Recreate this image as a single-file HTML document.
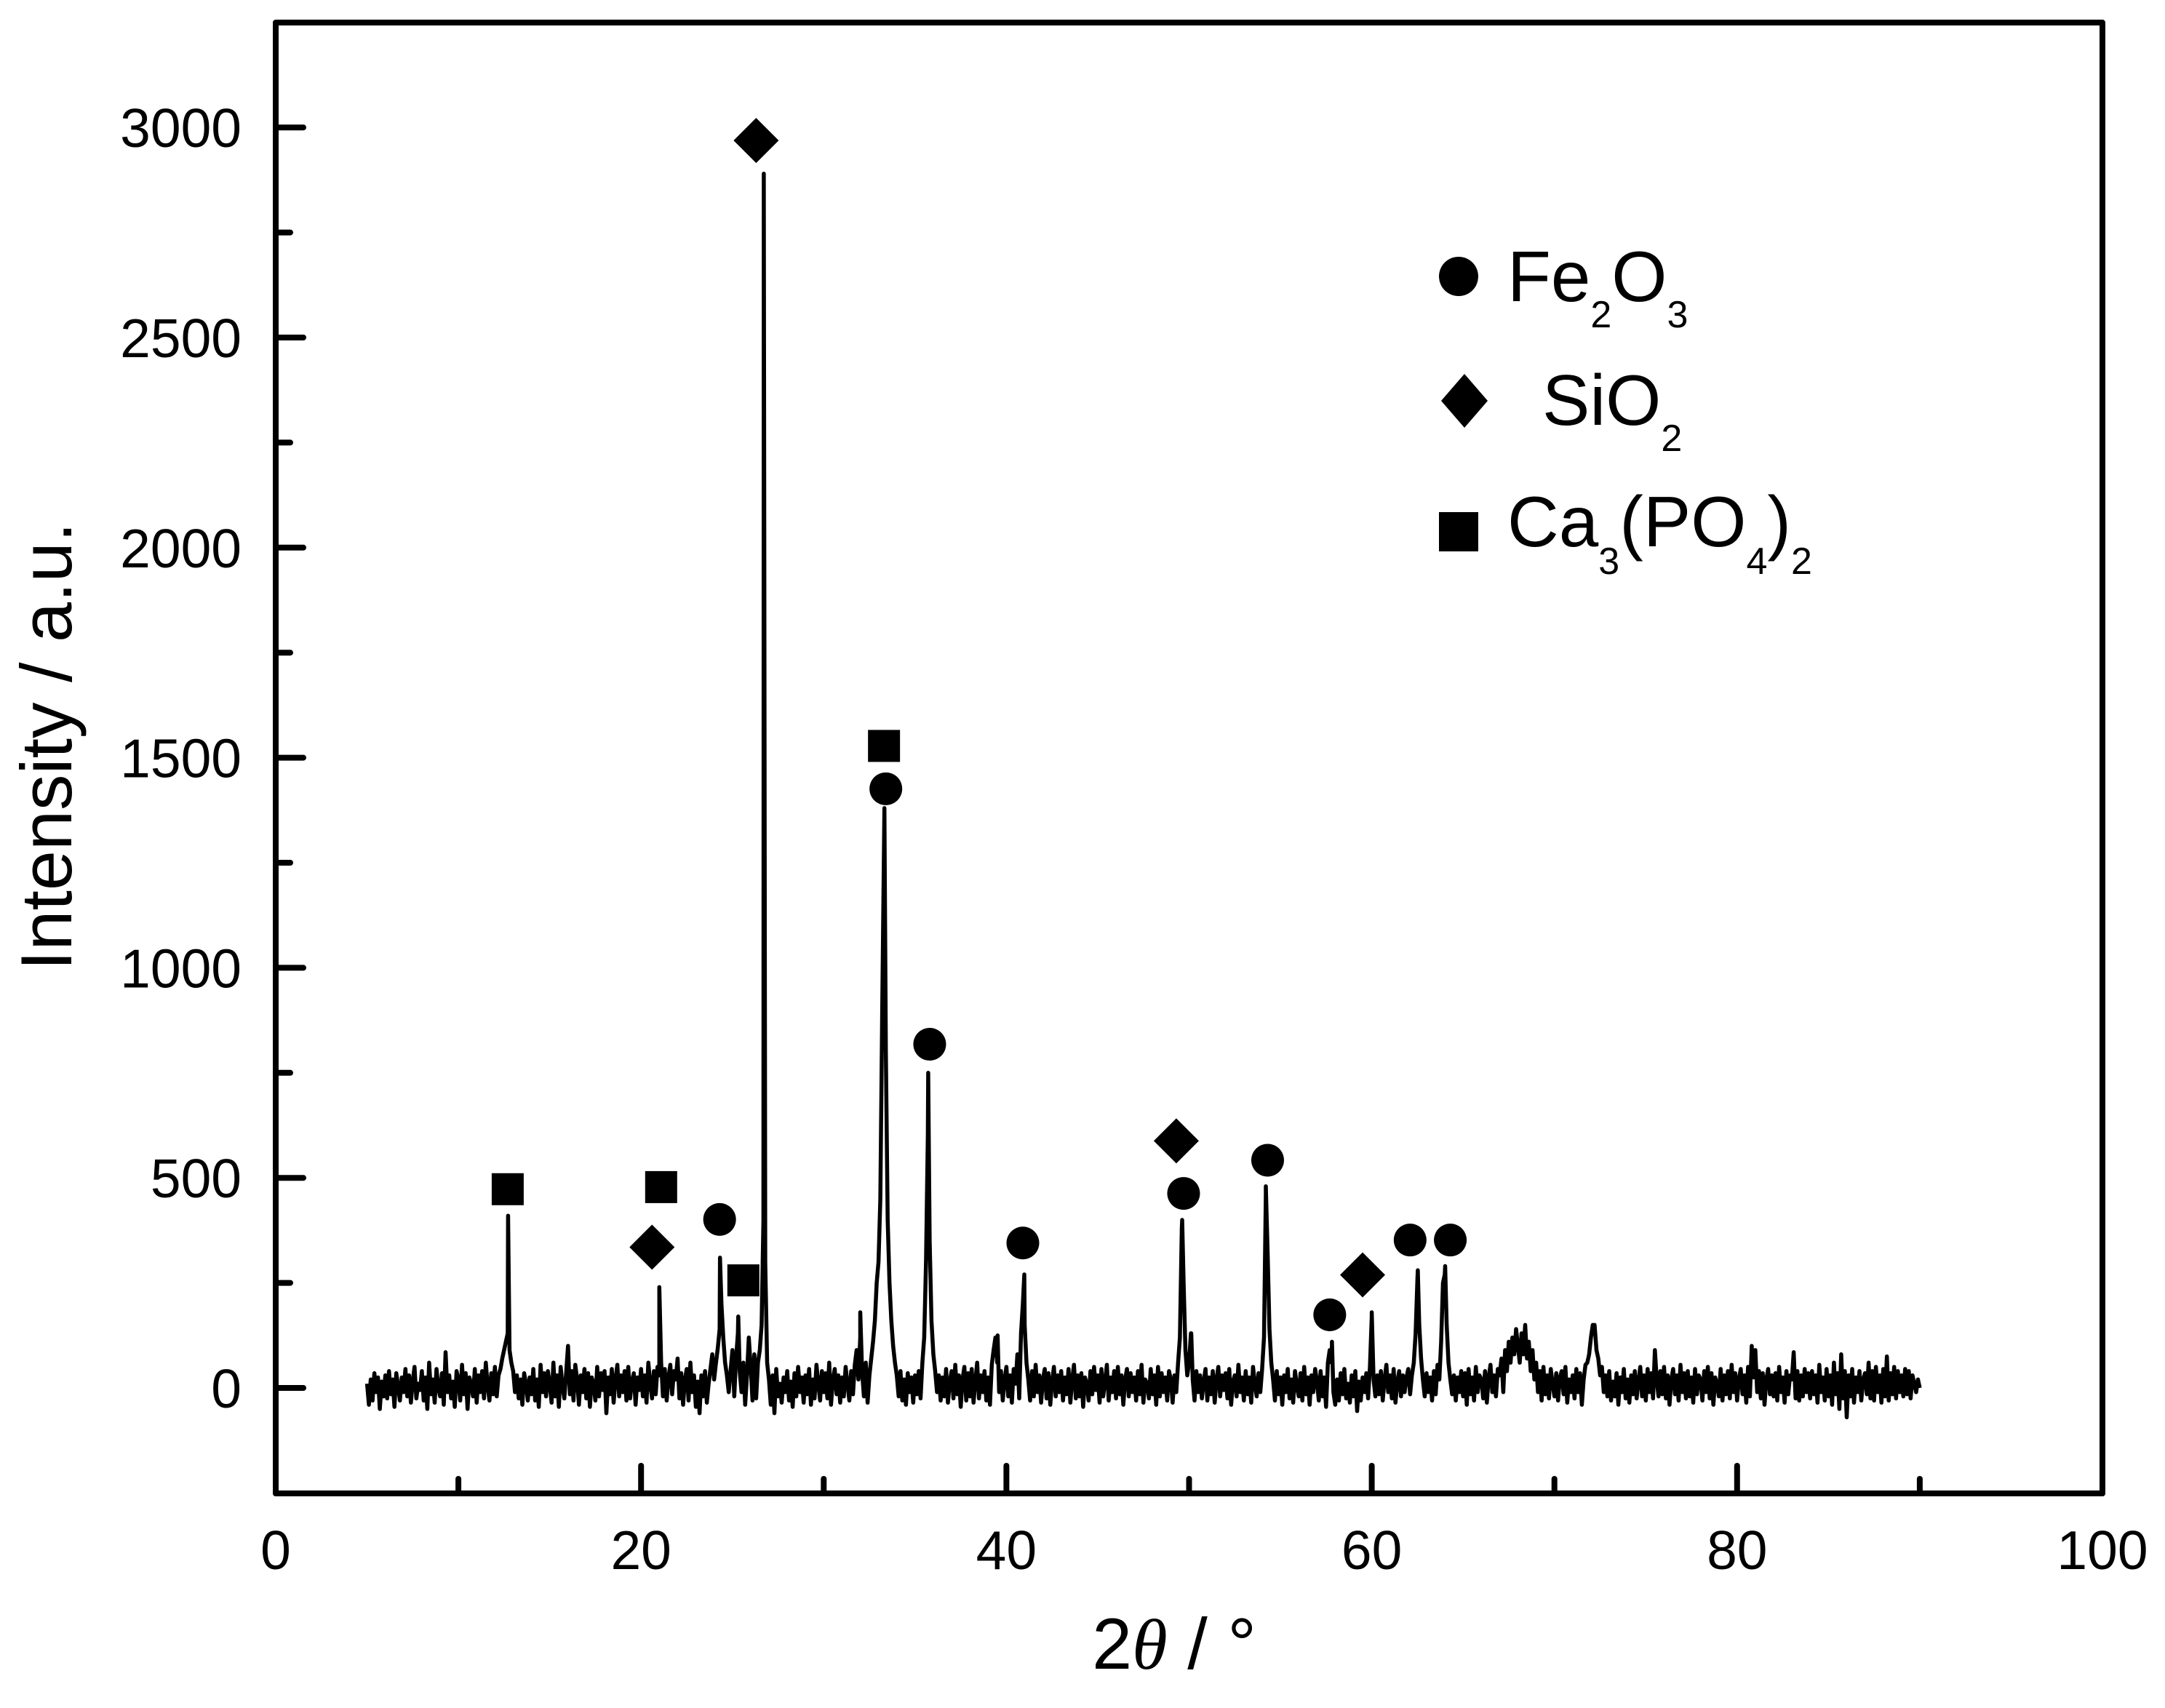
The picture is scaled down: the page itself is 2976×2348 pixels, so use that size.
<!DOCTYPE html>
<html><head><meta charset="utf-8"><style>
html,body{margin:0;padding:0;background:#fff}
svg{display:block}
text{font-family:"Liberation Sans",Arial,sans-serif;fill:#000}
</style></head><body>
<svg id="chart" width="2976" height="2348" viewBox="0 0 2976 2348" xmlns="http://www.w3.org/2000/svg">
<rect x="0" y="0" width="2976" height="2348" fill="#fff"/>
<g id="ticks"></g>
<g id="series"></g>
<g id="markers"></g>
<rect x="379" y="31" width="2511" height="2022" fill="none" stroke="#000" stroke-width="8" stroke-linejoin="round"/>
<text transform="translate(98,1026) rotate(-90)" text-anchor="middle" font-size="99">Intensity / a.u.</text>
<text x="1614" y="2294" text-anchor="middle" font-size="99">2<tspan font-style="italic" font-family="Liberation Serif, serif">θ</tspan> / °</text>
<g>
  <circle cx="2005" cy="380" r="27" fill="#000"/>
  <text x="2072" y="414" font-size="98">Fe<tspan font-size="52" dy="36">2</tspan><tspan dy="-36">O</tspan><tspan font-size="52" dy="36">3</tspan></text>
  <polygon points="2013,514 2045,551 2013,588 1981,551" fill="#000"/>
  <text x="2120" y="584" font-size="98">SiO<tspan font-size="52" dy="36">2</tspan></text>
  <rect x="1978" y="704" width="54" height="54" fill="#000"/>
  <text x="2072" y="751" font-size="98">Ca<tspan font-size="52" dy="38">3</tspan><tspan dy="-38">(PO</tspan><tspan font-size="52" dy="38">4</tspan><tspan dy="-38">)</tspan><tspan font-size="52" dy="38">2</tspan></text>
</g>
</svg>
<script>
const xTicks = [0,20,40,60,80,100];
const xMinor = [10,30,50,70,90];
const yTicks = [0,500,1000,1500,2000,2500,3000];
const yMinor = [250,750,1250,1750,2250,2750];
const baseStart = 5.0;
const baseStep = 0.1;
const baseline = [
10,-40,20,-30,35,-10,25,-50,15,-20,
30,-25,40,-15,20,-45,35,5,-30,25,
-10,45,-20,30,-35,15,50,-25,10,-5,
40,-30,25,-50,60,-15,20,-35,45,0,
-20,35,-40,85,-10,30,-25,15,-45,40,
20,-30,55,-15,35,-50,25,10,-20,45,
-35,30,-10,40,-25,60,5,-30,35,-15,
50,-20,30,45,70,90,110,130,90,60,
40,-10,30,-25,20,-40,35,10,-30,25,
-15,45,-30,20,-45,55,-10,35,-20,40,
10,-35,60,-20,30,-45,50,5,-25,35,
100,-15,40,-30,55,20,-40,30,-10,45,
-25,35,-45,25,10,-30,50,-20,35,-5,
40,-60,25,-15,45,-35,20,55,-20,30,
-10,40,-30,50,-25,15,35,-40,25,-5,
45,-20,30,-35,60,10,-25,40,-15,50,
30,60,-20,45,-30,25,55,-15,40,20,
70,-25,35,-40,20,45,-30,60,-10,30,
-45,15,-60,30,-20,40,-35,10,45,80,
20,60,95,140,200,120,60,30,-10,40,
90,-20,70,130,40,-10,60,-40,30,120,
50,-30,80,-25,60,90,150,400,300,60,
20,-40,30,-60,45,-20,10,-35,25,-10,
40,-30,15,-45,35,-20,50,-10,25,-35,
30,-15,45,-40,20,-25,55,10,-30,40,
-10,35,-25,60,-40,20,45,-15,30,-35,
25,-20,50,10,-30,40,-15,55,90,20,
120,40,-20,60,-35,30,70,110,160,250,
300,450,900,1300,800,400,250,160,100,60,
30,-20,40,-30,20,-40,35,-10,25,-35,
30,-15,40,-25,60,120,300,600,350,160,
80,40,-10,30,-30,25,-20,45,-35,15,
40,-25,55,-15,30,-45,20,50,-30,35,
-20,45,-35,15,60,-25,30,-10,40,-30,
25,-40,55,90,120,60,-10,40,-30,20,
50,-20,30,-35,45,10,80,-25,130,200,
150,60,20,-30,40,-20,55,-10,30,-35,
20,45,-25,35,-40,15,50,-20,30,-10,
40,-30,25,-15,45,-35,20,55,-25,30,
-20,35,-45,25,10,-30,40,-15,50,-5,
30,-35,45,-20,15,55,-30,25,-10,40,
-25,50,-15,30,-40,20,45,-20,35,-10,
25,-30,40,-15,55,-35,20,10,-25,45,
-15,30,-40,50,-20,35,-10,25,-30,40,
20,-35,30,-10,60,120,380,250,90,30,
60,130,20,-30,40,-10,30,-25,15,45,
-30,25,-15,40,-35,20,50,-20,30,-5,
35,-25,45,-40,15,30,-20,55,-10,25,
-30,40,-15,25,-35,50,10,-20,35,-10,
45,120,460,320,140,60,20,-30,40,-15,
25,-40,30,-10,45,-25,20,-35,40,5,
-20,35,-30,50,-15,25,-40,30,-10,45,
15,-30,40,-20,25,-45,60,90,60,-10,
-40,20,-30,35,-15,45,-25,10,-35,30,
-20,40,-55,15,-30,25,-10,35,-25,50,
170,20,-20,30,-15,40,-30,20,55,-10,
30,-25,45,-35,15,40,-20,30,-10,25,
45,-15,30,60,130,260,150,70,20,-20,
35,-10,25,-30,40,-15,55,20,110,250,
270,150,60,20,-15,30,-30,25,-10,40,
-20,35,-40,45,-15,25,-30,50,-10,30,
20,-25,40,-35,25,55,-10,30,-20,45,
30,70,-10,90,40,110,60,120,80,140,
100,60,130,80,150,70,110,40,90,20,
60,-10,40,-30,50,-15,30,-25,45,10,
-20,35,-30,25,40,-15,50,-35,20,-10,
30,-25,45,-10,35,-40,20,55,60,80,
120,150,130,90,70,30,50,-10,30,-20,
40,-30,15,-20,35,-40,25,-10,45,-25,
20,-35,30,-15,40,-25,15,50,-20,30,
-30,45,-10,35,-25,90,20,-20,40,-15,
50,-25,30,-40,20,45,-15,30,-30,55,
-10,35,-25,40,-20,25,-35,45,-15,30,
20,-30,40,-10,50,-25,35,-40,25,10,
-20,45,-30,30,-15,40,-25,55,-10,35,
-30,20,45,-15,30,-35,50,-20,100,25,
90,-10,40,-25,35,-40,20,45,-15,30,
-20,35,-30,50,-10,25,-35,40,-15,30,
20,85,-25,40,-30,30,-20,45,-10,35,
-25,40,-15,30,-35,55,-10,25,-30,45,
-20,30,-40,60,-15,35,-50,80,-25,40,
-70,30,-20,45,-35,25,-10,40,-30,20,
35,-15,60,-25,40,-30,50,-10,30,-35,
45,-20,75,-30,35,-15,50,-25,40,-10,
30,-20,45,-15,40,-25,30,10,-10,20,
0];
const peakPos = [12.72,21.0,24.32,25.32,26.72,32.0,33.32,35.72,39.52,40.98,49.62,50.12,54.2,57.82,60.0,62.52,64.02,72.2];
const peakHeight = [410,240,310,170,2890,180,1380,750,125,270,400,130,480,110,180,280,290,150];
const circleX = [24.3,33.4,35.8,40.9,49.7,54.3,57.7,62.1,64.3];
const circleY = [401,1426,818,345,463,542,174,352,352];
const diamondX = [20.6,26.3,49.3,59.5];
const diamondY = [335,2969,588,269];
const squareX = [12.7,21.1,25.6,33.3];
const squareY = [473,478,256,1528];

const NS='http://www.w3.org/2000/svg';
const X0=379, XS=25.11, Y0=1908, YS=0.5776;
function sx(v){return X0+v*XS;}
function sy(v){return Y0-v*YS;}
function mk(tag,attrs,parent){const e=document.createElementNS(NS,tag);for(const k in attrs)e.setAttribute(k,attrs[k]);parent.appendChild(e);return e;}

const tg=document.getElementById('ticks');
xTicks.forEach(v=>{
  const l=mk('line',{x1:sx(v),x2:sx(v),y1:2053,y2:2015,stroke:'#000','stroke-width':8,'stroke-linecap':'round'},tg);
  
  
  const t=mk('text',{x:sx(v),y:2157,'text-anchor':'middle','font-size':75},tg);
  
  
  t.textContent=v;
});
xMinor.forEach(v=>{
  const l=mk('line',{x1:sx(v),x2:sx(v),y1:2053,y2:2033,stroke:'#000','stroke-width':8,'stroke-linecap':'round'},tg);
  
  
});
yTicks.forEach(v=>{
  const l=mk('line',{x1:379,x2:417,y1:sy(v),y2:sy(v),stroke:'#000','stroke-width':8,'stroke-linecap':'round'},tg);
  
  
  const t=mk('text',{x:332,y:sy(v)+27,'text-anchor':'end','font-size':75},tg);
  
  
  t.textContent=v;
});
yMinor.forEach(v=>{
  const l=mk('line',{x1:379,x2:399,y1:sy(v),y2:sy(v),stroke:'#000','stroke-width':8,'stroke-linecap':'round'},tg);
  
  
});

const pts=[];
baseline.forEach((v,i)=>pts.push([baseStart+i*baseStep,v]));
peakPos.forEach((p,i)=>pts.push([p,peakHeight[i]]));
pts.sort((a,b)=>a[0]-b[0]);
const d=pts.map((p,i)=>(i?'L':'M')+sx(p[0]).toFixed(1)+' '+sy(p[1]).toFixed(1)).join(' ');
const path=mk('path',{d:d,fill:'none',stroke:'#000','stroke-width':5.5,'stroke-linejoin':'round'},document.getElementById('series'));



const mg=document.getElementById('markers');
circleX.forEach((x,i)=>{
  const c=mk('circle',{cx:sx(x),cy:sy(circleY[i]),r:22.5,fill:'#000'},mg);
  
  
});
diamondX.forEach((x,i)=>{
  const cx=sx(x), cy=sy(diamondY[i]);
  const p=mk('polygon',{points:`${cx},${cy-31} ${cx+31},${cy} ${cx},${cy+31} ${cx-31},${cy}`,fill:'#000'},mg);
  
  
});
squareX.forEach((x,i)=>{
  const r=mk('rect',{x:sx(x)-22,y:sy(squareY[i])-22,width:44,height:44,fill:'#000'},mg);
  
  
});
</script>
</body></html>
